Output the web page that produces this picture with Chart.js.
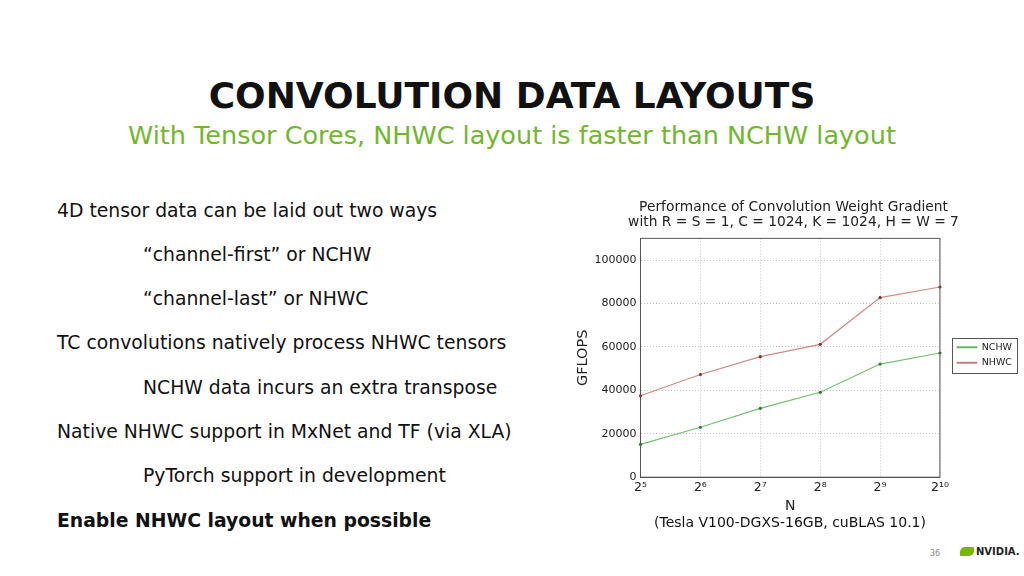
<!DOCTYPE html>
<html>
<head>
<meta charset="utf-8">
<script src="https://cdn.jsdelivr.net/npm/chart.js@4"></script>
<style>
  body { margin: 0; width: 1024px; height: 576px; background: #fff; position: relative; overflow: hidden; font-family: "DejaVu Sans", sans-serif; }
  .title { position: absolute; left: 0; width: 1024px; top: 75px; text-align: center; font-size: 36px; font-weight: bold; color: #111; }
  .sub { position: absolute; left: 0; width: 1024px; top: 120px; text-align: center; font-size: 25.5px; color: #72b62e; }
  .line { position: absolute; font-size: 18.8px; color: #111; white-space: nowrap; }
  .ind { left: 143px; }
  .top { left: 57px; }
  .note { position: absolute; left: 640px; width: 300px; top: 514px; text-align: center; font-size: 14px; color: #111; }
  .pg { position: absolute; left: 930px; top: 549px; font-size: 8px; color: #888; }
  .logo { position: absolute; left: 960px; top: 546px; font-size: 10px; font-weight: bold; color: #222; }
  .logo span { display: inline-block; width: 14px; height: 9px; background: #76b900; border-radius: 5px 1px 5px 1px; vertical-align: -1px; margin-right: 2px; }
  #wrap { position: absolute; left: 576px; top: 195px; width: 448px; height: 320px; }
</style>
</head>
<body>
<div class="title">CONVOLUTION DATA LAYOUTS</div>
<div class="sub">With Tensor Cores, NHWC layout is faster than NCHW layout</div>

<div class="line top" style="top:200px">4D tensor data can be laid out two ways</div>
<div class="line ind" style="top:244px">“channel-first” or NCHW</div>
<div class="line ind" style="top:288px">“channel-last” or NHWC</div>
<div class="line top" style="top:332px">TC convolutions natively process NHWC tensors</div>
<div class="line ind" style="top:377px">NCHW data incurs an extra transpose</div>
<div class="line top" style="top:421px">Native NHWC support in MxNet and TF (via XLA)</div>
<div class="line ind" style="top:465px">PyTorch support in development</div>
<div class="line top" style="top:510px;font-weight:bold">Enable NHWC layout when possible</div>

<div id="wrap"><canvas id="perf"></canvas></div>
<div class="note">(Tesla V100-DGXS-16GB, cuBLAS 10.1)</div>
<div class="pg">36</div>
<div class="logo"><span></span>NVIDIA.</div>

<script>
// batch size N (powers of two)
var nLabels = ['2⁵', '2⁶', '2⁷', '2⁸', '2⁹', '2¹⁰']
var nchw = [15100, 23000, 31700, 39100, 52100, 57200]
var nhwc = [37500, 47300, 55500, 61200, 82700, 87600]
var yTicks = [0, 20000, 40000, 60000, 80000, 100000]

// frame around plot and legend, like matplotlib
const framePlugin = {
    id: 'frame',
    afterLayout: function (chart) {
        // push legend a bit away from the plot
        chart.legend.left += 11
        chart.legend.right += 11
    },
    afterDraw: function (chart) {
        var ctx = chart.ctx
        var a = chart.chartArea
        ctx.save()
        ctx.strokeStyle = '#555'
        ctx.lineWidth = 1
        ctx.strokeRect(a.left, a.top, a.right - a.left, a.bottom - a.top)
        var boxes = chart.legend.legendHitBoxes
        if (boxes && boxes.length) {
            var l = Math.min.apply(null, boxes.map(function (b) { return b.left }))
            var r = Math.max.apply(null, boxes.map(function (b) { return b.left + b.width }))
            var t = Math.min.apply(null, boxes.map(function (b) { return b.top }))
            var btm = Math.max.apply(null, boxes.map(function (b) { return b.top + b.height }))
            ctx.strokeRect(Math.round(l - 5) + 0.5, Math.round(t - 5) + 0.5, Math.round(r - l + 10), Math.round(btm - t + 10))
        }
        ctx.restore()
    }
}

const config = {
    type: 'line',
    data: {
        labels: nLabels,
        datasets: [{
            label: 'NCHW',
            data: nchw,
            borderColor: 'rgba(70, 170, 70, 0.75)',
            backgroundColor: '#2e7d2e',
            borderWidth: 1.2,
            pointRadius: 1.6,
            pointBorderWidth: 0,
            tension: 0
        }, {
            label: 'NHWC',
            data: nhwc,
            borderColor: 'rgba(190, 100, 100, 0.75)',
            backgroundColor: '#8b2a2a',
            borderWidth: 1.2,
            pointRadius: 1.6,
            pointBorderWidth: 0,
            tension: 0
        }]
    },
    options: {
        responsive: true,
        maintainAspectRatio: false,
        animation: false,
        layout: { padding: { right: 13, top: 0, bottom: 0 } },
        plugins: {
            title: {
                display: true,
                text: ['Performance of Convolution Weight Gradient', 'with R = S = 1, C = 1024, K = 1024, H = W = 7'],
                color: '#222',
                font: { family: 'DejaVu Sans', size: 13.8, weight: 'normal', lineHeight: 1.1 },
                padding: { top: 5, bottom: 8 }
            },
            legend: {
                position: 'right',
                labels: {
                    color: '#222',
                    font: { family: 'DejaVu Sans', size: 9.5 },
                    boxWidth: 20,
                    boxHeight: 1,
                    padding: 6,
                    generateLabels: function (chart) {
                        return chart.data.datasets.map(function (d, i) {
                            return {
                                text: d.label,
                                strokeStyle: d.borderColor,
                                fillStyle: d.borderColor,
                                lineWidth: 1,
                                datasetIndex: i,
                                fontColor: '#222'
                            }
                        })
                    }
                }
            },
            tooltip: { enabled: false }
        },
        scales: {
            x: {
                offset: false,
                grid: { color: '#c4c4c4', drawTicks: false },
                border: { color: '#555', dash: [1, 2] },
                ticks: { color: '#222', font: { family: 'DejaVu Sans', size: 12.5 }, padding: 3, maxRotation: 0 },
                title: { display: true, text: 'N', color: '#222', font: { family: 'DejaVu Sans', size: 14 }, padding: { top: 0, bottom: 0 } }
            },
            y: {
                min: 0,
                max: 110000,
                afterBuildTicks: function (s) {
                    s.ticks = yTicks.map(function (v) { return { value: v } })
                },
                grid: { color: '#c4c4c4', drawTicks: false },
                border: { color: '#555', dash: [1, 2] },
                ticks: {
                    color: '#222',
                    font: { family: 'DejaVu Sans', size: 11 },
                    padding: 4,
                    callback: function (v) { return String(v) }
                },
                title: { display: true, text: 'GFLOPS', color: '#222', font: { family: 'DejaVu Sans', size: 14.5, lineHeight: 1 }, padding: { top: 0, bottom: 0 } }
            }
        }
    },
    plugins: [framePlugin]
}

const perfChart = new Chart(document.getElementById('perf'), config)
</script>
</body>
</html>
